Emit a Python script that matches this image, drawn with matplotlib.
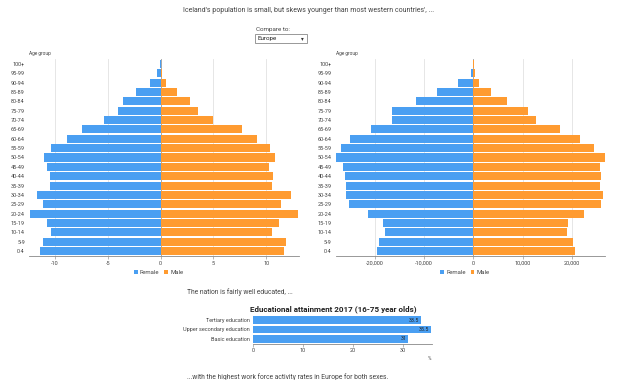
import matplotlib
matplotlib.use('Agg')
import matplotlib.pyplot as plt
from matplotlib.patches import Rectangle

plt.rcParams['font.family'] = ['Roboto', 'DejaVu Sans']

age_groups = ['0-4', '5-9', '10-14', '15-19', '20-24', '25-29', '30-34', '35-39',
              '40-44', '45-49', '50-54', '55-59', '60-64', '65-69', '70-74',
              '75-79', '80-84', '85-89', '90-94', '95-99', '100+']

# Iceland (left pyramid)
ice_female = [-11.4, -11.1, -10.4, -10.7, -12.4, -11.1, -11.7, -10.5, -10.5, -10.75,
              -11.0, -10.4, -8.9, -7.4, -5.4, -4.0, -3.6, -2.3, -1.0, -0.3, -0.02]
ice_male = [11.7, 11.9, 10.5, 11.25, 13.05, 11.35, 12.3, 10.5, 10.6, 10.25,
            10.8, 10.4, 9.1, 7.7, 5.0, 3.5, 2.8, 1.6, 0.5, 0.13, 0.02]

# Europe (right pyramid)
eu_female = [-19500, -19200, -17900, -18300, -21300, -25200, -25800, -25800, -26100, -26500,
             -27900, -26900, -25100, -20800, -16600, -16500, -11600, -7400, -3100, -540, -60]
eu_male = [20600, 20300, 19000, 19300, 22400, 26000, 26400, 25800, 25900, 25800,
           26700, 24500, 21600, 17600, 12700, 11100, 6800, 3600, 1200, 270, 40]

edu_labels = ['Basic education', 'Upper secondary education', 'Tertiary education']
edu_values = [31, 35.5, 33.5]

BLUE = '#4a9ff2'
ORANGE = '#ff9b30'
TXT = '#444444'
GRID = '#e2e2e2'

W, H = 635, 380
fig = plt.figure(figsize=(6.35, 3.8), dpi=100)


def fx(px):
    return px / W


def fy(py):
    return 1 - py / H


fig.text(fx(309), fy(10), "Iceland's population is small, but skews younger than most western countries', ...",
         ha='center', va='center', fontsize=5.0, color=TXT)
fig.text(fx(256), fy(30), 'Compare to:', ha='left', va='center', fontsize=4.5, color=TXT)
fig.patches.append(Rectangle((fx(255), fy(43)), fx(52), 9 / H, transform=fig.transFigure,
                             facecolor='white', edgecolor='#888888', linewidth=0.6))
fig.text(fx(258), fy(38.5), 'Europe', ha='left', va='center', fontsize=4.5, color='#222222')
fig.text(fx(302), fy(38.5), '▾', ha='center', va='center', fontsize=4, color='#333333')


def pyramid(left_px, right_px, female, male, xlim, ticks, ticklabels):
    ax = fig.add_axes([fx(left_px), fy(255.7), fx(right_px - left_px), 196.4 / H])
    y = range(len(age_groups))
    ax.barh(y, female, height=0.86, color=BLUE, label='Female', zorder=2)
    ax.barh(y, male, height=0.86, color=ORANGE, label='Male', zorder=2)
    ax.set_xlim(*xlim)
    ax.set_ylim(-0.5, len(age_groups) - 0.5)
    ax.set_yticks(list(y))
    ax.set_yticklabels(age_groups, fontsize=4.0, color=TXT)
    ax.set_xticks(ticks)
    ax.set_xticklabels(ticklabels, fontsize=4.0, color=TXT)
    ax.tick_params(axis='y', length=0, pad=3)
    ax.tick_params(axis='x', length=2, width=0.5, color='#999999', pad=1.5)
    for t in ticks:
        ax.axvline(t, color='#999999' if t == 0 else GRID, linewidth=0.6, zorder=1)
    for s in ['top', 'right', 'left']:
        ax.spines[s].set_visible(False)
    ax.spines['bottom'].set_color('#888888')
    ax.spines['bottom'].set_linewidth(0.6)
    ax.text(0.0, 1.015, 'Age group', transform=ax.transAxes, fontsize=3.4, color=TXT,
            ha='left', va='bottom')
    ax.legend(loc='upper center', bbox_to_anchor=(0.48, -0.045), ncol=2, frameon=False,
              fontsize=4.3, handlelength=0.6, handleheight=0.6, handletextpad=0.4,
              columnspacing=0.8, labelcolor=TXT)
    return ax


pyramid(29, 299, ice_female, ice_male, (-12.45, 13.1), [-10, -5, 0, 5, 10],
        ['-10', '-5', '0', '5', '10'])
pyramid(335.7, 605, eu_female, eu_male, (-27950, 26750), [-20000, -10000, 0, 10000, 20000],
        ['-20,000', '-10,000', '0', '10,000', '20,000'])

fig.text(fx(187), fy(292), 'The nation is fairly well educated, ...', ha='left', va='center',
         fontsize=4.9, color=TXT)

ax3 = fig.add_axes([fx(253), fy(343.5), fx(179), 28 / H])
ypos = range(len(edu_labels))
ax3.barh(ypos, edu_values, height=0.85, color=BLUE, zorder=2)
for yy, v in zip(ypos, edu_values):
    ax3.text(v - 0.3, yy, f'{v:g}', ha='right', va='center', fontsize=3.8, color='#222222', zorder=3)
ax3.set_xlim(0, 35.8)
ax3.set_ylim(-0.5, 2.5)
ax3.set_yticks(list(ypos))
ax3.set_yticklabels(edu_labels, fontsize=4.0, color=TXT)
ax3.set_xticks([0, 10, 20, 30])
ax3.set_xticklabels(['0', '10', '20', '30'], fontsize=4.0, color=TXT)
ax3.tick_params(axis='y', length=0, pad=2)
ax3.tick_params(axis='x', length=2, width=0.5, color='#999999', pad=1.5)
for s in ['top', 'right', 'left']:
    ax3.spines[s].set_visible(False)
ax3.spines['bottom'].set_color('#888888')
ax3.spines['bottom'].set_linewidth(0.6)
fig.text(fx(333), fy(309), 'Educational attainment 2017 (16-75 year olds)', ha='center', va='center',
         fontsize=5.8, fontweight='bold', color='#222222')
fig.text(fx(429), fy(358), '%', ha='center', va='center', fontsize=3.4, color=TXT)

fig.text(fx(187), fy(377), '...with the highest work force activity rates in Europe for both sexes.',
         ha='left', va='center', fontsize=4.9, color=TXT)

fig.savefig('out.png', dpi=100)
